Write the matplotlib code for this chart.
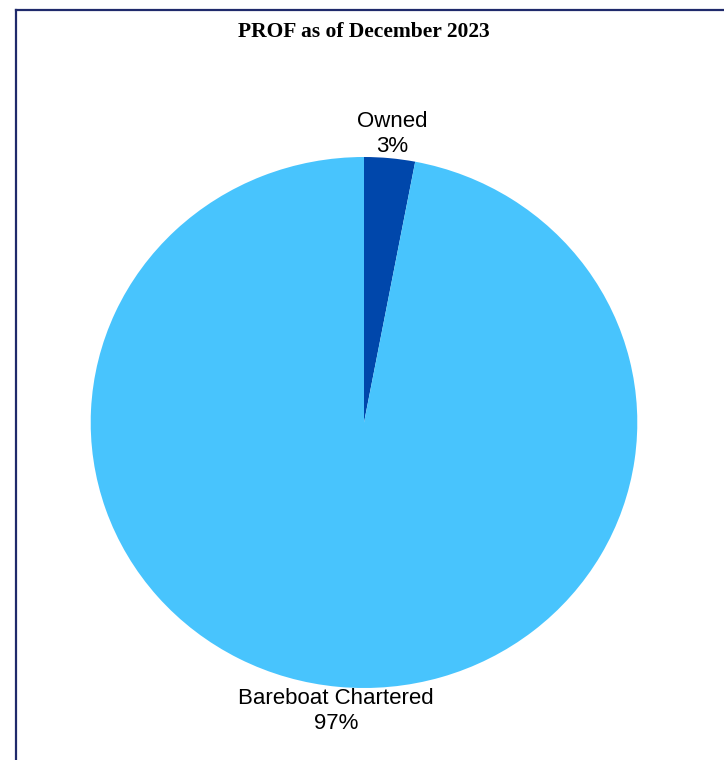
import numpy as np
import matplotlib.pyplot as plt
from matplotlib.lines import Line2D

### données
categories = ['Owned', 'Bareboat Chartered']
values = [3, 97]
colors = ['#0047AB', '#48C4FD']
title = 'PROF as of December 2023'

W, H = 724, 760
fig = plt.figure(figsize=(W/100, H/100), dpi=100)
fig.patch.set_facecolor('white')

### cadre (haut et gauche seulement, le reste est coupé)
fig.add_artist(Line2D([16/W, 1], [1 - 10/H, 1 - 10/H], color='#1f2a6b', lw=1.6, transform=fig.transFigure))
fig.add_artist(Line2D([16/W, 16/W], [1 - 10/H, 0], color='#1f2a6b', lw=1.6, transform=fig.transFigure))

fig.text(364/W, 1 - 32/H, title, ha='center', va='center',
         fontsize=15.5, fontweight='bold', family='Liberation Serif')

### camembert (légèrement ovale comme l'original)
rx, ry = 273.3, 265.5
cx, cy = 364, 422.5
ax = fig.add_axes([(cx - rx)/W, (H - cy - ry)/H, 2*rx/W, 2*ry/H])
wedges, _ = ax.pie(values, colors=colors, startangle=90, counterclock=False,
                   wedgeprops=dict(linewidth=0))
ax.set_xlim(-1, 1)
ax.set_ylim(-1, 1)
ax.set_aspect('auto')

total = sum(values)
for w, cat, v in zip(wedges, categories, values):
    ang = np.deg2rad((w.theta1 + w.theta2) / 2)
    d = 1.09
    ax.text(d*np.cos(ang), d*np.sin(ang), f"{cat}\n{round(100*v/total)}%",
            ha='center', va='center', fontsize=16, family='Liberation Sans',
            linespacing=1.25, clip_on=False)

fig.savefig('out.png', dpi=100)
